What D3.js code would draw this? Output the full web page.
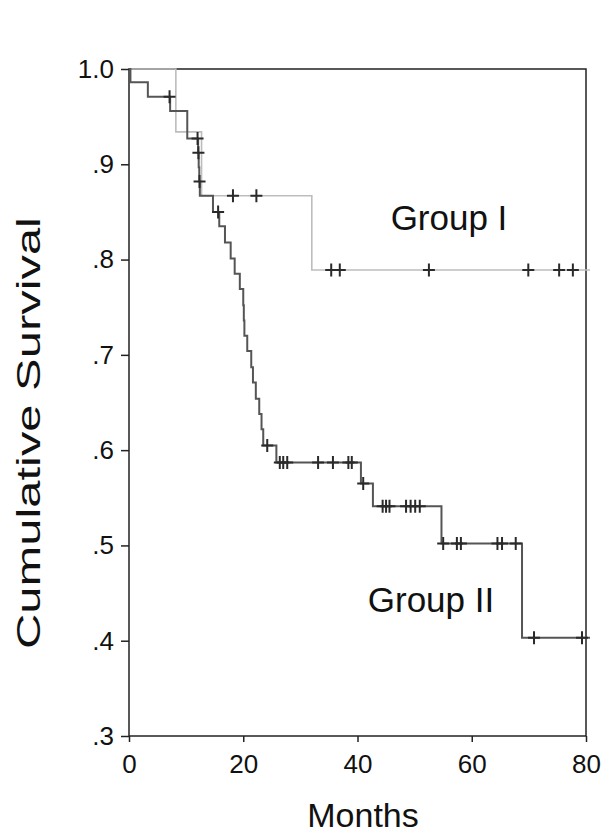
<!DOCTYPE html>
<html>
<head>
<meta charset="utf-8">
<script src="https://cdnjs.cloudflare.com/ajax/libs/d3/7.8.5/d3.min.js"></script>
<style>
  body { margin: 0; background: #fff; }
  text { font-family: "Liberation Sans", Arial, sans-serif; fill: #111; }
</style>
</head>
<body>
<script>

// Kaplan-Meier steps: time of drop (months) and survival after it
var g1Times = [8.2, 12.7, 32.0];
var g1Surv = [0.934, 0.867, 0.789];
var g1Censored = [18.2, 22.3, 35.4, 36.9, 52.5, 69.9, 75.3, 77.7];

var g2Times = [0.25, 3.3, 7.2, 10.2, 12.1, 12.2, 12.3, 12.4, 14.7, 15.8, 16.8, 17.8, 18.5, 19.4,
  20.0, 20.1, 20.2, 20.7, 21.4, 21.7, 22.2, 22.8, 23.2, 23.5, 25.8, 40.6, 42.7, 54.7, 68.8];
var g2Surv = [0.986, 0.971, 0.956, 0.927, 0.912, 0.897, 0.882, 0.867, 0.850, 0.835, 0.818, 0.801, 0.785, 0.769,
  0.752, 0.736, 0.720, 0.704, 0.687, 0.671, 0.654, 0.638, 0.622, 0.605, 0.587, 0.565, 0.541, 0.502, 0.403];
var g2Censored = [7.1, 12.0, 12.15, 12.35, 15.6, 24.2, 26.4, 27.0, 27.7, 33.1, 35.7, 38.4, 39.0, 41.0,
  44.4, 45.0, 45.6, 48.5, 49.3, 50.1, 50.9, 55.0, 57.4, 58.1, 64.5, 65.3, 67.7, 70.9, 79.3];

var endTime = 80.7;
var xTicks = [0, 20, 40, 60, 80];
var yTicks = [0.3, 0.4, 0.5, 0.6, 0.7, 0.8, 0.9, 1.0];

var width = 603, height = 836;
var margin = {top: 69, right: 17, bottom: 100, left: 129};

var svg = d3.select("body").append("svg")
    .attr("width", width)
    .attr("height", height);

var x = d3.scaleLinear().domain([0, 80]).range([margin.left, width - margin.right]);
var y = d3.scaleLinear().domain([0.3, 1.0]).range([height - margin.bottom, margin.top]);

// frame
svg.append("rect")
    .attr("x", x(0)).attr("y", y(1))
    .attr("width", x(80) - x(0)).attr("height", y(0.3) - y(1))
    .attr("fill", "none").attr("stroke", "#222").attr("stroke-width", 1.5);

var yAxis = svg.append("g")
    .attr("transform", "translate(" + x(0) + ",0)")
    .call(d3.axisLeft(y).tickValues(yTicks).tickSize(8).tickSizeOuter(0).tickPadding(7)
      .tickFormat(function(d) { return d === 1 ? "1.0" : d3.format(".1f")(d).replace("0.", "."); }));

var xAxis = svg.append("g")
    .attr("transform", "translate(0," + y(0.3) + ")")
    .call(d3.axisBottom(x).tickValues(xTicks).tickSize(6).tickSizeOuter(0).tickPadding(13));

[yAxis, xAxis].forEach(function(g) {
  g.select(".domain").remove();
  g.selectAll(".tick line").attr("stroke", "#222").attr("stroke-width", 1.5);
  g.selectAll(".tick text").attr("fill", "#111").style("font-size", "26px")
    .style("font-family", "'Liberation Sans', Arial, sans-serif");
});

// turn steps into a path
function stepPoints(times, surv) {
  var pts = [[0, 1]];
  var s = 1;
  times.forEach(function(t, i) {
    pts.push([t, s]);
    s = surv[i];
    pts.push([t, s]);
  });
  pts.push([endTime, s]);
  return pts;
}

function survAt(times, surv, t) {
  var s = 1;
  times.forEach(function(tt, i) { if (tt <= t) s = surv[i]; });
  return s;
}

var line = d3.line().x(function(d) { return x(d[0]); }).y(function(d) { return y(d[1]); });

var groups = [
  {times: g1Times, surv: g1Surv, cens: g1Censored, color: "#bdbdbd", w: 1.6},
  {times: g2Times, surv: g2Surv, cens: g2Censored, color: "#555", w: 2}
];

groups.forEach(function(g) {
  svg.append("path")
    .attr("d", line(stepPoints(g.times, g.surv)))
    .attr("fill", "none")
    .attr("stroke", g.color)
    .attr("stroke-width", g.w);
});

groups.forEach(function(g) {
  svg.append("g").selectAll(".cens")
    .data(g.cens)
    .enter().append("path")
      .attr("class", "cens")
      .attr("d", function(t) {
        var cx = x(t), cy = y(survAt(g.times, g.surv, t));
        return "M" + (cx - 6) + "," + cy + "H" + (cx + 6) + "M" + cx + "," + (cy - 6.5) + "V" + (cy + 6.5);
      })
      .attr("stroke", "#2a2a2a")
      .attr("stroke-width", 2)
      .attr("fill", "none");
});

// labels
svg.append("text")
    .attr("x", 449).attr("y", 230)
    .attr("text-anchor", "middle")
    .style("font-size", "35px")
    .text("Group I");

svg.append("text")
    .attr("x", 431).attr("y", 612)
    .attr("text-anchor", "middle")
    .style("font-size", "35px")
    .text("Group II");

svg.append("text")
    .attr("x", 363).attr("y", 827)
    .attr("text-anchor", "middle")
    .style("font-size", "34px")
    .text("Months");

svg.append("text")
    .attr("transform", "translate(40,433) rotate(-90)")
    .attr("text-anchor", "middle")
    .style("font-size", "34px")
    .attr("textLength", 432)
    .attr("lengthAdjust", "spacingAndGlyphs")
    .text("Cumulative Survival");

</script>
</body>
</html>
